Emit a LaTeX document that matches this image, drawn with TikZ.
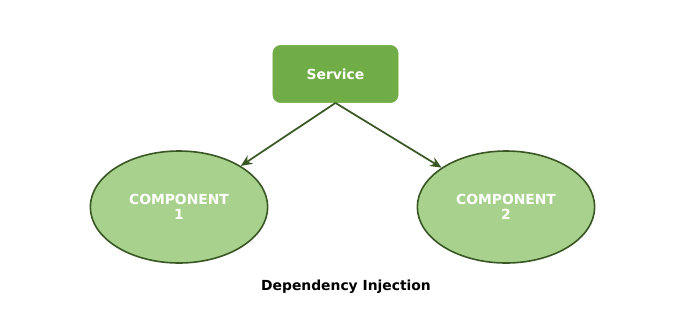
\documentclass[tikz,border=0pt]{standalone}
\usepackage{fontspec}
\setmainfont{DejaVu Sans}
\usepackage{xcolor}
\usepackage{tikz}
\usetikzlibrary{arrows.meta,positioning,shapes.geometric}
\definecolor{leaf}{HTML}{70AD47}
\definecolor{softleaf}{HTML}{A9D18E}
\definecolor{darkleaf}{HTML}{385723}
\tikzset{
  svcbox/.style={draw=leaf,fill=leaf,rounded corners=6pt,align=center,font=\bfseries\fontsize{10.4}{12}\selectfont,text=white,minimum width=94pt,minimum height=43pt},
  comp/.style={draw=darkleaf,line width=1.2pt,ellipse,fill=softleaf,align=center,font=\bfseries\fontsize{10.4}{11.5}\selectfont,text=white,minimum width=133pt,minimum height=84pt,inner sep=0pt},
  flow/.style={-{Stealth[length=3mm,width=2.6mm]},line width=1.3pt,draw=darkleaf},
  caption/.style={font=\bfseries\fontsize{10.4}{12}\selectfont,text=black}
}
\begin{document}
\begin{tikzpicture}[x=0.75pt,y=-0.75pt]
  \useasboundingbox (0,0) rectangle (700,315);
  \node[svcbox] (svc) at (335.5,74) {Service};
  \node[comp] (c1) at (179,207) {COMPONENT\\1};
  \node[comp] (c2) at (506,207) {COMPONENT\\2};
  \node[caption] (cap) at (346,287) {Dependency Injection};
  \draw[flow] (svc.south) -- (c1);
  \draw[flow] (svc.south) -- (c2);
\end{tikzpicture}
\end{document}
